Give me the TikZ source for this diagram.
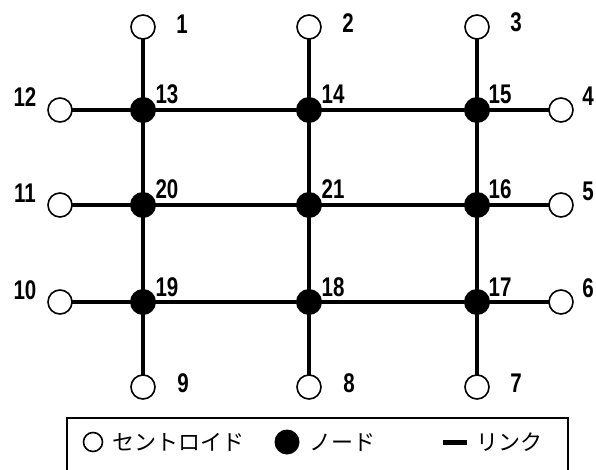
\documentclass[tikz,border=0pt]{standalone}
\usepackage{fontspec}
\setmainfont[FakeStretch=0.76]{Liberation Sans}
\newfontfamily\jp{Noto Sans CJK JP}
\usetikzlibrary{backgrounds}
\begin{document}
\begin{tikzpicture}[x=1pt,y=-1pt,
  cent/.style={circle,draw,fill=white,line width=1.6pt,minimum size=24pt,inner sep=0pt},
  nd/.style={circle,fill=black,minimum size=26pt,inner sep=0pt},
  link/.style={line width=4.8pt},
  lab/.style={font=\bfseries\fontsize{27}{27}\selectfont,inner sep=0pt},
  jlab/.style={font=\jp\fontsize{22}{22}\selectfont,inner sep=0pt}]
\useasboundingbox (0,0) rectangle (596,470);
% centroids
\node[cent] (c1) at (143,27) {};
\node[cent] (c2) at (309,27) {};
\node[cent] (c3) at (477,27) {};
\node[cent] (c4) at (561,110) {};
\node[cent] (c5) at (561,205) {};
\node[cent] (c6) at (561,302) {};
\node[cent] (c7) at (477,387) {};
\node[cent] (c8) at (309,387) {};
\node[cent] (c9) at (143,387) {};
\node[cent] (c10) at (60,302) {};
\node[cent] (c11) at (60,205) {};
\node[cent] (c12) at (60,110) {};
% nodes
\node[nd] (n13) at (143,110) {};
\node[nd] (n14) at (309,110) {};
\node[nd] (n15) at (477,110) {};
\node[nd] (n20) at (143,205) {};
\node[nd] (n21) at (309,205) {};
\node[nd] (n16) at (477,205) {};
\node[nd] (n19) at (143,302) {};
\node[nd] (n18) at (309,302) {};
\node[nd] (n17) at (477,302) {};
% links
\begin{scope}[on background layer]
\fill[white] (0,0) rectangle (596,470);
\draw[link] (c1.center) -- (n13.center) -- (n20.center) -- (n19.center) -- (c9.center);
\draw[link] (c2.center) -- (n14.center) -- (n21.center) -- (n18.center) -- (c8.center);
\draw[link] (c3.center) -- (n15.center) -- (n16.center) -- (n17.center) -- (c7.center);
\draw[link] (c12.center) -- (n13.center) -- (n14.center) -- (n15.center) -- (c4.center);
\draw[link] (c11.center) -- (n20.center) -- (n21.center) -- (n16.center) -- (c5.center);
\draw[link] (c10.center) -- (n19.center) -- (n18.center) -- (n17.center) -- (c6.center);
\end{scope}
% centroid labels
\node[lab] (l1) at (182,24) {1};
\node[lab] (l2) at (348,23) {2};
\node[lab] (l3) at (516,22) {3};
\node[lab] (l4) at (588,96) {4};
\node[lab] (l5) at (588,191) {5};
\node[lab] (l6) at (588,288) {6};
\node[lab] (l7) at (516,383) {7};
\node[lab] (l8) at (349,383) {8};
\node[lab] (l9) at (183,383) {9};
\node[lab] (l10) at (25,290) {10};
\node[lab] (l11) at (25,193) {11};
\node[lab] (l12) at (25,97) {12};
% node labels
\node[lab] (l13) at (167,94) {13};
\node[lab] (l14) at (333,94) {14};
\node[lab] (l15) at (500,94) {15};
\node[lab] (l20) at (167,189) {20};
\node[lab] (l21) at (333,189) {21};
\node[lab] (l16) at (500,189) {16};
\node[lab] (l19) at (167,287) {19};
\node[lab] (l18) at (333,287) {18};
\node[lab] (l17) at (500,287) {17};
% legend
\draw[line width=1.5pt] (67,418) rectangle (568,490);
\node[circle,draw,line width=1.6pt,minimum size=19pt,inner sep=0pt] (lgc) at (93,442) {};
\node[jlab] (lgct) at (178,442) {セントロイド};
\node[circle,fill=black,minimum size=25pt,inner sep=0pt] (lgn) at (287,442) {};
\node[jlab] (lgnt) at (342,442) {ノード};
\coordinate (lk1) at (443,442);
\coordinate (lk2) at (467,442);
\draw[line width=5pt] (lk1) -- (lk2);
\node[jlab] (lglt) at (509,442) {リンク};
\end{tikzpicture}
\end{document}
